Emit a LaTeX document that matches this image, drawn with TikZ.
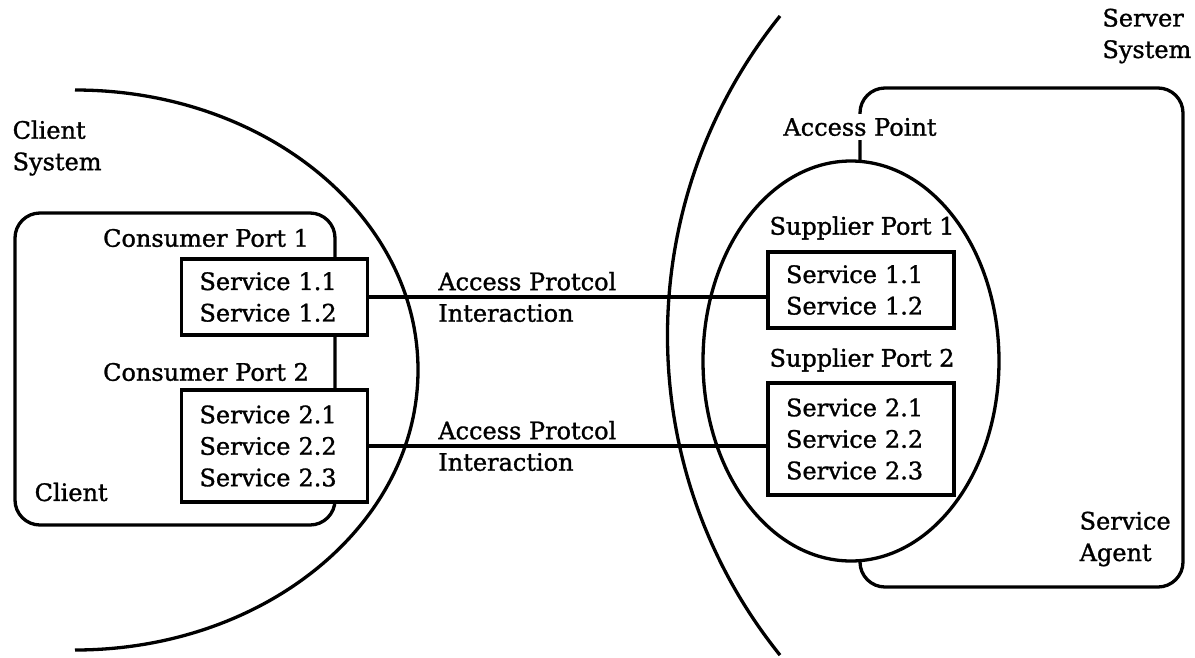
\documentclass[tikz,border=0pt]{standalone}
\usepackage{fontspec}
\setmainfont{DejaVu Serif}[FakeBold=1.2]
\usetikzlibrary{shapes.geometric,positioning}
\newcommand{\diafont}{\fontsize{24}{31.5}\selectfont}
\tikzset{
    every node/.style={font=\diafont},
    svcbox/.style={draw, fill=white, align=left, text width=150pt, inner xsep=18pt, inner ysep=0pt},
    lbl/.style={align=left, inner sep=0pt},
    portring/.style={draw, fill=white, ellipse, inner sep=0pt, minimum width=296pt, minimum height=400pt},
}
\begin{document}
\begin{tikzpicture}[x=1pt, y=-1pt, line width=3.3pt]
    \useasboundingbox (0,0) rectangle (1195,657);
    % System boundaries
    \draw (75,90) arc[start angle=-90, end angle=90, x radius=343, y radius=280];
    \draw (780,16) arc[start angle=218.8, end angle=141.2, radius=510];
    \node[lbl, anchor=west] (clsys) at (11,148) {Client\\System};
    \node[lbl, anchor=east] (svsys) at (1193,36) {Server\\System};

    % Client side
    \draw[rounded corners=25pt] (15,213) rectangle (335,525);
    \node[lbl] (cport1) at (206,238) {Consumer Port 1};
    \node[svcbox, minimum height=76pt] (cs1) at (274.5,297) {Service 1.1\\Service 1.2};
    \node[lbl] (cport2) at (206,372) {Consumer Port 2};
    \node[svcbox, minimum height=112pt] (cs2) at (274.5,446) {Service 2.1\\Service 2.2\\Service 2.3};
    \node[lbl, anchor=west] (client) at (33,492) {Client};

    % Server side
    \draw[rounded corners=25pt] (860,88) rectangle (1183,587);
    \node[portring] (supring) at (851,361) {};
    \node[fill=white, inner sep=4pt] (accpt) at (860,127) {Access Point};
    \node[lbl] (sport1) at (862,228) {Supplier Port 1};
    \node[svcbox, minimum height=76pt] (ss1) at (861,290) {Service 1.1\\Service 1.2};
    \node[lbl] (sport2) at (862,360) {Supplier Port 2};
    \node[svcbox, minimum height=112pt] (ss2) at (861,439) {Service 2.1\\Service 2.2\\Service 2.3};
    \node[lbl, anchor=west] (agent) at (1078,539) {Service\\Agent};

    % Protocol interactions
    \draw (cs1.east) -- node[lbl, pos=0.17, anchor=west] {Access Protcol\\Interaction} (cs1.east -| ss1.west);
    \draw (cs2.east) -- node[lbl, pos=0.17, anchor=west] {Access Protcol\\Interaction} (cs2.east -| ss2.west);
\end{tikzpicture}
\end{document}
